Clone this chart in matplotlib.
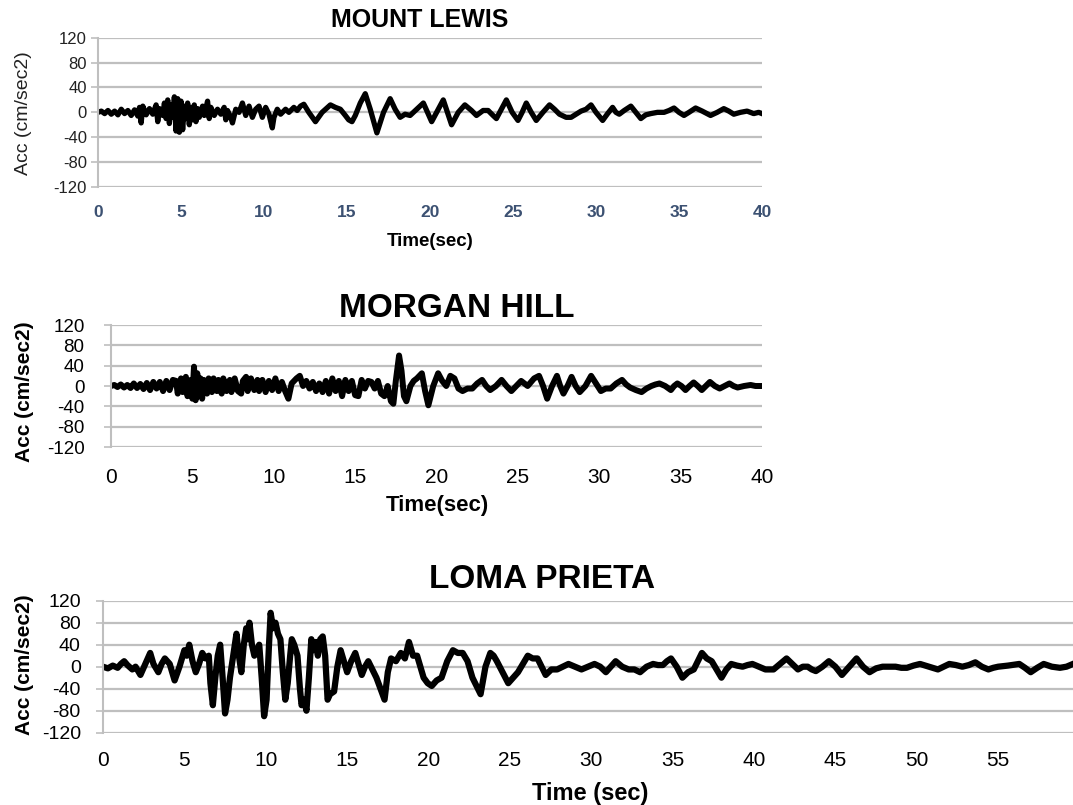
import matplotlib
matplotlib.use("Agg")
import matplotlib.pyplot as plt

plt.rcParams['font.family'] = ['Liberation Sans', 'DejaVu Sans']
plt.rcParams['axes.unicode_minus'] = False

# (time s, acceleration cm/s2)
mount_lewis = [
    (0.0, 0), (0.2, 2), (0.4, -2), (0.6, 3), (0.8, -3), (1.0, 2), (1.2, -4), (1.4, 5), (1.6, -2),
    (1.8, 3), (2.0, -5), (2.2, 4), (2.4, -6), (2.5, 8), (2.6, -17), (2.7, 10), (2.9, -4), (3.1, 6),
    (3.3, -3), (3.5, 12), (3.6, -15), (3.7, 6), (3.9, -5), (4.0, 15), (4.1, -10), (4.2, 20),
    (4.3, -18), (4.4, 12), (4.5, -8), (4.6, 25), (4.7, -30), (4.8, 22), (4.9, -32), (5.0, 18),
    (5.1, -28), (5.2, 10), (5.3, -10), (5.4, 15), (5.5, -20), (5.6, 8), (5.7, -12), (5.8, 12),
    (5.9, -15), (6.0, 6), (6.1, -8), (6.3, 10), (6.4, -5), (6.6, 18), (6.7, -10), (6.8, 8),
    (7.0, -5), (7.2, 5), (7.4, -3), (7.6, 8), (7.7, -12), (7.8, 3), (8.0, -8), (8.1, -17),
    (8.3, 5), (8.5, 0), (8.7, 15), (8.9, -5), (9.1, 10), (9.3, -8), (9.5, 5), (9.7, 10),
    (9.9, -8), (10.1, 8), (10.3, -3), (10.5, -25), (10.6, -8), (10.8, 5), (11.0, -3), (11.3, 5),
    (11.5, 0), (11.8, 8), (12.0, 3), (12.2, 10), (12.4, 13), (12.7, 0), (13.1, -15), (13.5, 0),
    (14.0, 12), (14.3, 8), (14.6, 5), (14.9, -5), (15.1, -12), (15.3, -15), (15.5, -5),
    (15.8, 15), (16.1, 30), (16.4, 5), (16.8, -33), (17.2, 0), (17.6, 22), (17.9, 5), (18.2, -8),
    (18.5, -3), (18.8, -5), (19.2, 5), (19.6, 15), (19.85, 0), (20.1, -15), (20.5, 5), (20.8, 20),
    (21.05, 0), (21.3, -20), (21.7, 0), (22.1, 12), (22.5, 3), (22.8, -5), (23.2, 3), (23.5, 3),
    (23.8, -5), (24.0, -10), (24.3, 5), (24.6, 20), (24.95, 0), (25.3, -13), (25.55, 0),
    (25.8, 15), (26.1, 0), (26.4, -13), (26.8, 0), (27.2, 12), (27.5, 5), (27.8, -3), (28.2, -8),
    (28.5, -8), (28.8, -3), (29.1, 2), (29.4, 5), (29.7, 12), (30.0, 0), (30.4, -13), (30.7, -2),
    (31.0, 8), (31.2, 0), (31.4, -3), (31.7, 3), (32.1, 10), (32.4, 0), (32.7, -10), (33.0, -4),
    (33.3, -2), (33.7, 0), (34.1, 0), (34.4, 3), (34.7, 7), (35.0, 0), (35.3, -5), (35.6, 0),
    (36.0, 7), (36.4, 2), (36.9, -5), (37.3, 0), (37.7, 6), (38.0, 2), (38.3, -3), (38.7, 0),
    (39.1, 2), (39.5, -2), (39.8, 0), (40.0, -2)]

morgan_hill = [
    (0.0, 0), (0.2, 2), (0.4, -2), (0.6, 3), (0.8, -3), (1.0, 2), (1.2, -4), (1.4, 5), (1.6, -4),
    (1.8, 4), (2.0, -6), (2.2, 6), (2.4, -8), (2.6, 8), (2.8, -5), (3.0, 8), (3.2, -10), (3.4, 10),
    (3.6, -8), (3.8, 12), (4.0, 10), (4.1, -15), (4.3, 15), (4.4, -12), (4.6, 18), (4.7, -20),
    (4.9, 12), (5.0, -25), (5.1, 38), (5.2, -28), (5.3, 25), (5.4, -20), (5.5, 15), (5.6, -25),
    (5.7, 12), (5.9, -15), (6.0, 15), (6.2, -12), (6.3, 15), (6.5, -10), (6.6, 12), (6.8, -15),
    (6.9, 15), (7.1, -10), (7.3, 12), (7.4, -12), (7.6, 15), (7.8, -10), (8.0, -15), (8.1, 10),
    (8.3, 18), (8.4, -10), (8.6, 15), (8.8, -8), (9.0, 12), (9.1, -10), (9.3, 12), (9.5, -12),
    (9.7, 10), (9.9, -8), (10.1, 15), (10.3, -10), (10.5, 8), (10.7, -10), (10.9, -25), (11.1, 5),
    (11.4, 15), (11.6, 20), (11.8, 0), (12.0, 10), (12.2, -5), (12.4, 8), (12.6, -10), (12.8, 5),
    (13.0, -12), (13.2, 10), (13.4, -15), (13.6, 15), (13.8, -10), (14.0, 10), (14.2, -20),
    (14.4, 12), (14.6, -10), (14.8, 10), (15.0, -18), (15.2, -20), (15.4, 12), (15.6, -5),
    (15.8, 10), (16.0, 8), (16.2, -5), (16.4, 10), (16.6, -15), (16.8, -20), (17.0, 0),
    (17.2, -30), (17.35, -35), (17.5, 10), (17.7, 60), (17.85, 30), (18.0, -20), (18.15, -30),
    (18.4, 0), (18.6, 10), (18.8, 15), (19.1, 25), (19.3, -10), (19.5, -38), (19.8, 0),
    (20.1, 25), (20.35, 10), (20.6, 0), (20.85, 20), (21.1, 15), (21.35, -5), (21.6, -10),
    (21.9, -5), (22.2, -5), (22.5, 5), (22.8, 12), (23.05, 0), (23.3, -8), (23.65, 0), (24.0, 12),
    (24.3, 0), (24.6, -10), (24.9, 0), (25.2, 10), (25.6, 0), (26.0, 15), (26.3, 20), (26.55, 0),
    (26.8, -25), (27.1, 0), (27.4, 20), (27.6, 0), (27.8, -15), (28.05, 0), (28.3, 18),
    (28.55, 0), (28.8, -12), (29.15, 0), (29.5, 20), (29.8, 5), (30.1, -10), (30.4, -5),
    (30.7, -5), (31.05, 5), (31.4, 12), (31.65, 3), (31.9, -3), (32.25, -8), (32.6, -12),
    (32.9, -5), (33.2, 0), (33.45, 3), (33.7, 5), (34.05, 0), (34.4, -8), (34.6, 0), (34.8, 5),
    (35.05, 0), (35.3, -8), (35.55, 0), (35.8, 7), (36.05, 0), (36.3, -8), (36.55, 0), (36.8, 8),
    (37.1, 0), (37.4, -5), (37.7, 0), (38.0, 5), (38.25, 0), (38.5, -3), (38.9, 0), (39.3, 2),
    (39.6, 0), (40.0, 0)]

loma_prieta = [
    (0.0, 0), (0.3, -3), (0.6, 2), (0.9, -2), (1.1, 5), (1.3, 10), (1.5, 3), (1.8, -5), (2.0, 0),
    (2.3, -15), (2.6, 5), (2.9, 25), (3.1, 5), (3.4, -10), (3.6, 5), (3.8, 15), (4.1, 5),
    (4.4, -25), (4.7, 0), (5.0, 30), (5.15, 20), (5.3, 40), (5.5, 10), (5.7, -10), (5.9, 5),
    (6.1, 25), (6.3, 15), (6.5, 20), (6.6, -30), (6.75, -70), (6.9, -20), (7.05, 20), (7.2, 40),
    (7.35, -20), (7.5, -85), (7.65, -60), (7.8, -20), (8.0, 20), (8.2, 60), (8.35, 20),
    (8.5, -10), (8.65, 40), (8.8, 70), (8.9, 50), (9.0, 80), (9.15, 40), (9.3, 20), (9.45, 30),
    (9.6, 40), (9.75, -20), (9.9, -90), (10.05, -60), (10.2, 40), (10.3, 98), (10.45, 70),
    (10.6, 80), (10.75, 60), (10.9, 50), (11.05, -10), (11.2, -60), (11.35, -30), (11.5, 20),
    (11.6, 50), (11.75, 40), (11.95, 20), (12.1, -40), (12.2, -70), (12.35, -60), (12.5, -80),
    (12.65, -20), (12.8, 50), (12.95, 30), (13.1, 45), (13.2, 20), (13.35, 50), (13.5, 55),
    (13.65, 20), (13.8, -60), (13.95, -50), (14.2, -45), (14.4, 0), (14.6, 30), (14.8, 10),
    (15.0, -10), (15.25, 10), (15.5, 25), (15.7, 5), (15.9, -15), (16.1, 0), (16.3, 10),
    (16.55, -5), (16.8, -20), (17.05, -40), (17.3, -60), (17.5, -10), (17.7, 15), (18.0, 10),
    (18.3, 25), (18.55, 15), (18.8, 45), (19.05, 20), (19.3, 20), (19.5, 0), (19.7, -20),
    (19.95, -30), (20.2, -35), (20.5, -25), (20.8, -20), (21.15, 10), (21.5, 30), (21.8, 25),
    (22.1, 25), (22.4, 10), (22.7, -20), (22.95, -35), (23.2, -50), (23.5, 0), (23.8, 25),
    (24.0, 20), (24.2, 10), (24.55, -10), (24.9, -30), (25.2, -20), (25.5, -10), (25.8, 5),
    (26.1, 20), (26.4, 15), (26.7, 15), (26.95, 0), (27.2, -15), (27.55, -5), (27.9, -5),
    (28.25, 0), (28.6, 5), (29.0, 0), (29.4, -5), (29.8, 0), (30.2, 5), (30.55, 0), (30.9, -10),
    (31.2, 0), (31.5, 10), (31.9, 0), (32.3, -5), (32.65, -5), (33.0, -10), (33.4, 0), (33.8, 5),
    (34.1, 3), (34.4, 3), (34.65, 10), (34.9, 15), (35.25, 0), (35.6, -20), (35.95, -10),
    (36.3, -5), (36.55, 10), (36.8, 25), (37.1, 15), (37.4, 10), (37.7, -5), (38.0, -20),
    (38.3, -5), (38.6, 5), (38.95, 2), (39.3, 0), (39.6, 3), (39.9, 5), (40.3, 0), (40.7, -5),
    (41.2, -5), (41.6, 5), (42.0, 15), (42.35, 5), (42.7, -5), (43.0, 0), (43.3, 0), (43.55, -5),
    (43.8, -8), (44.2, 0), (44.6, 10), (45.0, 0), (45.4, -15), (45.85, 0), (46.3, 15), (46.7, 0),
    (47.1, -10), (47.5, -3), (47.9, 0), (48.3, 0), (48.7, 0), (49.05, -2), (49.4, -2), (49.8, 2),
    (50.2, 5), (50.75, 0), (51.3, -5), (51.65, 0), (52.0, 5), (52.4, 3), (52.8, 0), (53.2, 3),
    (53.6, 8), (54.0, 0), (54.4, -5), (54.7, -2), (55.0, 0), (55.6, 2), (56.3, 5), (56.65, -2),
    (57.0, -10), (57.4, -2), (57.8, 5), (58.3, 0), (58.8, -2), (59.2, 0), (59.6, 5)]

t_ml, a_ml = zip(*mount_lewis)
t_mh, a_mh = zip(*morgan_hill)
t_lp, a_lp = zip(*loma_prieta)

W, H = 1073, 805
fig = plt.figure(figsize=(W / 100, H / 100), dpi=100)


def box(x0, y0, x1, y1):
    return [x0 / W, 1 - y1 / H, (x1 - x0) / W, (y1 - y0) / H]


def fx(x):
    return x / W


def fy(y):
    return 1 - y / H


grid_c = '#bfbfbf'
yticks = [-120, -80, -40, 0, 40, 80, 120]


def setup(ax, xmax, xticks, tsize, ysize, xpad, ypad, xcolor='black', xweight='normal',
          ycolor='black'):
    ax.set_xlim(0, xmax)
    ax.set_ylim(-120, 120)
    ax.set_yticks(yticks)
    ax.set_xticks(xticks)
    for s in ['top', 'right', 'bottom']:
        ax.spines[s].set_visible(False)
    ax.spines['left'].set_color(grid_c)
    ax.spines['left'].set_linewidth(1.5)
    ax.grid(axis='y', color=grid_c, linewidth=1.6)
    ax.set_axisbelow(True)
    ax.tick_params(axis='y', length=5, width=1.2, color=grid_c, labelsize=ysize,
                   labelcolor=ycolor, pad=ypad)
    ax.tick_params(axis='x', length=0, labelsize=tsize, labelcolor=xcolor, pad=xpad)
    for lab in ax.get_xticklabels():
        lab.set_fontweight(xweight)


# MOUNT LEWIS
ax1 = fig.add_axes(box(98, 37.7, 762, 187))
ax1.plot(t_ml, a_ml, color='black', lw=3.8, solid_joinstyle='round')
setup(ax1, 40, range(0, 41, 5), 12.5, 12, 13, 3, xcolor='#3c5172', xweight='bold',
      ycolor='#222222')
fig.text(fx(420), fy(20), 'MOUNT LEWIS', ha='center', va='center', fontsize=18, fontweight='bold')
fig.text(fx(430), fy(241), 'Time(sec)', ha='center', va='center', fontsize=13.5, fontweight='bold')
fig.text(fx(24), fy(113), 'Acc (cm/sec2)', ha='center', va='center', rotation=90, fontsize=14,
         color='#222222')

# MORGAN HILL
ax2 = fig.add_axes(box(111, 325, 762, 447))
ax2.plot(t_mh, a_mh, color='black', lw=4.3, solid_joinstyle='round')
setup(ax2, 40, range(0, 41, 5), 15, 13.5, 15, 14)
fig.text(fx(457), fy(308), 'MORGAN HILL', ha='center', va='center', fontsize=24, fontweight='bold')
fig.text(fx(437), fy(506), 'Time(sec)', ha='center', va='center', fontsize=16, fontweight='bold')
fig.text(fx(25), fy(392), 'Acc (cm/sec2)', ha='center', va='center', rotation=90, fontsize=15,
         fontweight='bold')

# LOMA PRIETA
ax3 = fig.add_axes(box(103, 600.7, 1073, 732.7))
ax3.plot(t_lp, a_lp, color='black', lw=4.5, solid_joinstyle='round')
setup(ax3, 59.6, range(0, 56, 5), 15, 14, 13, 11)
fig.text(fx(542), fy(579), 'LOMA PRIETA', ha='center', va='center', fontsize=24, fontweight='bold')
fig.text(fx(590), fy(793), 'Time (sec)', ha='center', va='center', fontsize=17, fontweight='bold')
fig.text(fx(25), fy(665), 'Acc (cm/sec2)', ha='center', va='center', rotation=90, fontsize=15,
         fontweight='bold')

fig.savefig('out.png', dpi=100)
